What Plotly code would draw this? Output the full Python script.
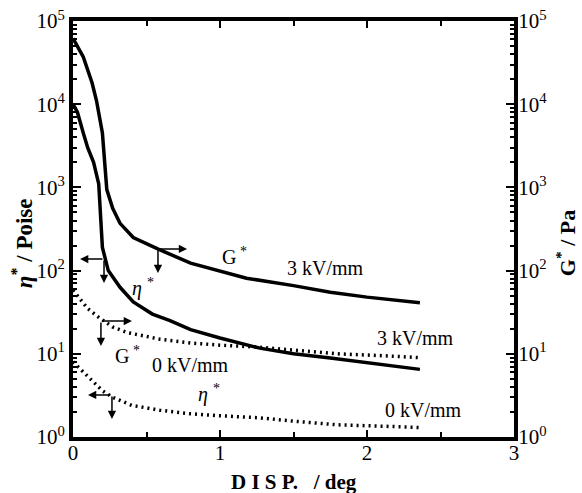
import plotly.graph_objects as go

# ---- data ----
g3_x = [0.0, 0.03, 0.07, 0.13, 0.16, 0.2, 0.23, 0.27, 0.32, 0.41, 0.58, 0.8, 1.0, 1.18, 1.5, 1.75, 2.0, 2.36]
g3_y = [62000, 50000, 37000, 18000, 11000, 4500, 940, 560, 370, 250, 181, 123, 100, 81, 66, 55, 48, 41]

e3_x = [0.0, 0.03, 0.07, 0.1, 0.14, 0.175, 0.2, 0.24, 0.32, 0.41, 0.54, 0.66, 0.8, 1.0, 1.27, 1.5, 1.75, 2.0, 2.36]
e3_y = [10000, 8000, 4500, 3000, 2000, 1100, 190, 100, 63, 42, 30, 25, 19.5, 15.5, 11.7, 10, 8.9, 7.8, 6.5]

g0_x = [0.0, 0.05, 0.1, 0.18, 0.27, 0.37, 0.59, 0.8, 1.0, 1.27, 1.5, 1.8, 2.1, 2.36]
g0_y = [58, 45, 35, 27, 21, 18, 15, 13.5, 12.7, 12, 11, 10, 9.5, 9]

e0_x = [0.0, 0.07, 0.14, 0.2, 0.27, 0.4, 0.59, 0.8, 1.0, 1.27, 1.5, 1.8, 2.1, 2.36]
e0_y = [8, 6, 4.5, 3.6, 3.0, 2.4, 2.1, 1.9, 1.8, 1.7, 1.55, 1.4, 1.35, 1.3]

x_ticks = [0, 1, 2, 3]
x_minor = [0.5, 1.5, 2.5]
y_ticks = [1, 10, 100, 1000, 10000, 100000]
y_ticktext = ["10<sup>0</sup>", "10<sup>1</sup>", "10<sup>2</sup>", "10<sup>3</sup>", "10<sup>4</sup>", "10<sup>5</sup>"]

FONT = "Liberation Serif"

fig = go.Figure()
solid = dict(color="black", width=3.5)
dotted = dict(color="black", width=3.5, dash="2px,4px")
fig.add_trace(go.Scatter(x=g3_x, y=g3_y, mode="lines", line=solid, yaxis="y2", name="G* 3 kV/mm"))
fig.add_trace(go.Scatter(x=e3_x, y=e3_y, mode="lines", line=solid, name="η* 3 kV/mm"))
fig.add_trace(go.Scatter(x=g0_x, y=g0_y, mode="lines", line=dotted, yaxis="y2", name="G* 0 kV/mm"))
fig.add_trace(go.Scatter(x=e0_x, y=e0_y, mode="lines", line=dotted, name="η* 0 kV/mm"))

minor_y = [m * 10 ** k for k in range(5) for m in range(2, 10)]

common_y = dict(
    type="log", range=[0, 5], tickmode="array", tickvals=y_ticks, ticktext=y_ticktext,
    ticks="inside", ticklen=8, tickwidth=2, tickcolor="black",
    showline=True, linewidth=4, linecolor="black", showgrid=False, zeroline=False,
    automargin=False,
    minor=dict(tickmode="array", tickvals=minor_y, ticks="inside", ticklen=4, tickwidth=2, tickcolor="black", showgrid=False),
    tickfont=dict(family=FONT, size=21, color="black"),
)

fig.update_layout(
    template="none",
    width=582, height=493,
    margin=dict(l=73, r=68, t=21, b=56),
    plot_bgcolor="white", paper_bgcolor="white",
    showlegend=False,
    font=dict(family=FONT, size=20, color="black"),
    xaxis=dict(
        range=[0, 3], tickmode="array", tickvals=x_ticks,
        ticks="inside", ticklen=7, tickwidth=2, tickcolor="black",
        showline=True, linewidth=4, linecolor="black", mirror="ticks",
        showgrid=False, zeroline=False, automargin=False,
        ticklabelstandoff=-6,
        minor=dict(tickmode="array", tickvals=x_minor, ticks="inside", ticklen=5, tickwidth=2, tickcolor="black", showgrid=False),
        tickfont=dict(family=FONT, size=21, color="black"),
    ),
    yaxis=dict(**common_y, mirror=True),
    yaxis2=dict(**common_y, overlaying="y", side="right", ticklabelstandoff=-4),
)

# arrows: (tail x, tail log10 y, tip x, tip log10 y)
arrows = [
    (0.211, 2.139, 0.048, 2.139), (0.211, 2.139, 0.211, 1.851),
    (0.578, 2.260, 0.776, 2.260), (0.578, 2.260, 0.578, 1.971),
    (0.190, 1.394, 0.401, 1.394), (0.190, 1.394, 0.190, 1.094),
    (0.265, 0.505, 0.102, 0.505), (0.265, 0.505, 0.265, 0.216),
]
for tx, ty, hx, hy in arrows:
    fig.add_annotation(x=hx, y=hy, ax=tx, ay=ty, xref="x", yref="y", axref="x", ayref="y",
                       text="", showarrow=True, arrowhead=2, arrowsize=1.1, arrowwidth=1.5,
                       arrowcolor="black", standoff=0, startstandoff=0)

labels = [
    (1.10, 2.175, "G<sup> *</sup>"),
    (1.72, 2.031, "3 kV/mm"),
    (0.476, 1.791, "<i>η</i> <sup>*</sup>"),
    (2.327, 1.19, "3 kV/mm"),
    (0.374, 0.986, "G<sup> *</sup>"),
    (0.796, 0.865, "0 kV/mm"),
    (0.925, 0.517, "<i>η</i> <sup>*</sup>"),
    (2.381, 0.325, "0 kV/mm"),
]
for lx, ly, t in labels:
    fig.add_annotation(x=lx, y=ly, xref="x", yref="y", text=t, showarrow=False,
                       xanchor="center", yanchor="middle",
                       font=dict(family=FONT, size=20, color="black"))

# axis titles
fig.add_annotation(x=-0.1156, y=0.466, xref="paper", yref="paper", text="<b><i>η</i><sup>*</sup> / Poise</b>",
                   textangle=-90, showarrow=False, xanchor="center", yanchor="middle",
                   font=dict(family=FONT, size=23, color="black"))
fig.add_annotation(x=1.118, y=0.466, xref="paper", yref="paper", text="<b>G<sup>*</sup> / Pa</b>",
                   textangle=-90, showarrow=False, xanchor="center", yanchor="middle",
                   font=dict(family=FONT, size=22, color="black"))
fig.add_annotation(x=0.5, y=-0.108, xref="paper", yref="paper",
                   text="<b>D I S P.\u00a0\u00a0\u00a0/ deg</b>",
                   showarrow=False, xanchor="center", yanchor="middle",
                   font=dict(family=FONT, size=21, color="black"))

fig.write_html("out.html", config={"displayModeBar": False},
               post_script="document.body.style.margin='0';document.body.style.overflow='hidden';")
